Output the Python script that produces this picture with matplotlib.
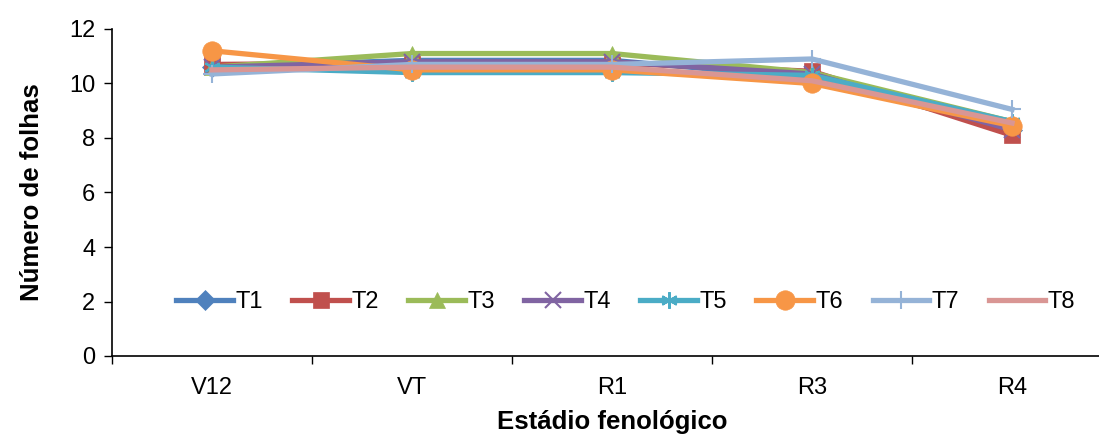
import matplotlib.pyplot as plt
import numpy as np

plt.rcParams['font.family'] = ['Liberation Sans', 'DejaVu Sans']

# === data ===
stages = ["V12", "VT", "R1", "R3", "R4"]
t1 = [10.6, 10.85, 10.85, 10.2, 8.3]
t2 = [10.7, 10.75, 10.75, 10.45, 8.1]
t3 = [10.6, 11.1, 11.1, 10.4, 8.6]
t4 = [10.6, 10.8, 10.8, 10.35, 8.3]
t5 = [10.6, 10.4, 10.4, 10.3, 8.6]
t6 = [11.2, 10.5, 10.5, 10.0, 8.45]
t7 = [10.35, 10.7, 10.7, 10.9, 9.05]
t8 = [10.5, 10.6, 10.6, 10.1, 8.55]

series = [
    ("T1", t1, '#4F81BD', 'D', 10),
    ("T2", t2, '#C0504D', 's', 11),
    ("T3", t3, '#9BBB59', '^', 12),
    ("T4", t4, '#8064A2', 'x', 11),
    ("T5", t5, '#4BACC6', (6, 2, 0), 12),
    ("T6", t6, '#F79646', 'o', 14),
    ("T7", t7, '#95B3D7', '+', 13),
    ("T8", t8, '#D99694', None, 0),
]

fig = plt.figure(figsize=(10.99, 4.37), dpi=100)
ax = fig.add_axes([112/1099, 81/437, 1000/1099, 327/437])

x = np.arange(len(stages))
for name, vals, color, marker, ms in series:
    ax.plot(x, vals, color=color, lw=3.8, marker=marker, markersize=ms,
            markeredgewidth=1.5 if marker in ('x', '+', (6, 2, 0)) else 0.5,
            markeredgecolor=color, label=name)

ax.set_xlim(-0.5, 4.5)
ax.set_ylim(0, 12)
ax.set_yticks(range(0, 13, 2))
ax.set_xticks(np.arange(-0.5, 4.6, 1))
ax.set_xticklabels([])
ax.set_xticks(x, minor=True)
ax.set_xticklabels(stages, minor=True)
ax.tick_params(axis='x', which='minor', length=0, pad=15, labelsize=17)
ax.tick_params(axis='x', which='major', length=6, width=1, direction='out')
ax.tick_params(axis='y', length=6, width=1, direction='out', labelsize=17, pad=6)

for side in ('top', 'right'):
    ax.spines[side].set_visible(False)
for side in ('left', 'bottom'):
    ax.spines[side].set_linewidth(1.2)

ax.set_ylabel("Número de folhas", fontsize=18.5, fontweight='bold', labelpad=18)
ax.set_xlabel("Estádio fenológico", fontsize=18.5, fontweight='bold', labelpad=8)

ax.legend(loc='center left', bbox_to_anchor=(0.043, 0.165), ncol=8, frameon=False,
          fontsize=17, handlelength=2.4, handletextpad=0.1, columnspacing=1.25)

plt.savefig("out.png", dpi=100)
